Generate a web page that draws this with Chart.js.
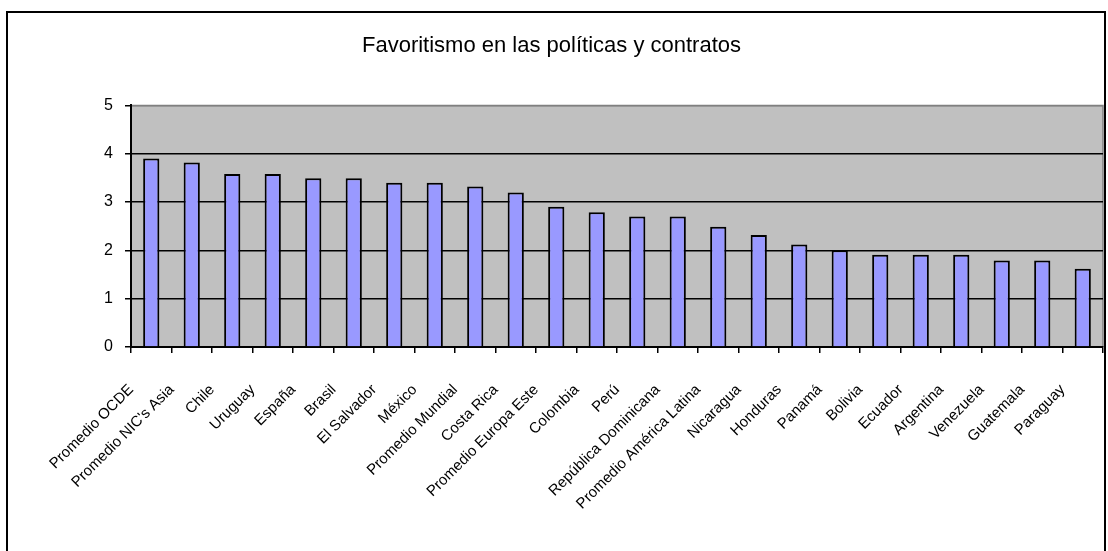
<!DOCTYPE html>
<html>
<head>
<meta charset="utf-8">
<script src="https://cdn.jsdelivr.net/npm/chart.js@4/dist/chart.umd.min.js"></script>
<style>
  html, body { margin: 0; padding: 0; background: #fff; }
  #wrap { width: 1108px; height: 551px; }
</style>
</head>
<body>
<div id="wrap"><canvas id="c" width="1108" height="551"></canvas></div>
<script>
// Favoritism index by country / regional average (scale 0-5)
const categories = [
  'Promedio OCDE', "Promedio NIC's Asia", 'Chile', 'Uruguay', 'España', 'Brasil',
  'El Salvador', 'México', 'Promedio Mundial', 'Costa Rica', 'Promedio Europa Este',
  'Colombia', 'Perú', 'República Dominicana', 'Promedio América Latina', 'Nicaragua',
  'Honduras', 'Panamá', 'Bolivia', 'Ecuador', 'Argentina', 'Venezuela',
  'Guatemala', 'Paraguay'
];
const values = [
  3.90, 3.82, 3.58, 3.58, 3.49, 3.49,
  3.40, 3.40, 3.32, 3.20, 2.90,
  2.79, 2.70, 2.70, 2.49, 2.32,
  2.12, 2.00, 1.91, 1.91, 1.91, 1.79,
  1.79, 1.62
];
const yTickValues = [0, 1, 2, 3, 4, 5];
const chartTitle = 'Favoritismo en las políticas y contratos';

const FONT = "'Liberation Sans', Arial, sans-serif";

// Outer frame plus grey plot-area background and border
const framePlugin = {
  id: 'frame',
  beforeDraw(chart) {
    const { ctx, chartArea: a } = chart;
    ctx.save();
    ctx.fillStyle = '#ffffff';
    ctx.fillRect(0, 0, chart.width, chart.height);
    ctx.strokeStyle = '#000';
    ctx.lineWidth = 2;
    ctx.strokeRect(7, 12, 1098, 600);
    ctx.fillStyle = '#C0C0C0';
    ctx.fillRect(a.left, a.top, a.right - a.left, a.bottom - a.top);
    ctx.strokeStyle = '#808080';
    ctx.lineWidth = 1.5;
    ctx.beginPath();
    ctx.moveTo(a.left, a.top);
    ctx.lineTo(a.right, a.top);
    ctx.lineTo(a.right, a.bottom);
    ctx.stroke();
    ctx.restore();
  }
};

new Chart(document.getElementById('c'), {
  type: 'bar',
  data: {
    labels: categories,
    datasets: [{
      data: values,
      backgroundColor: '#9999FF',
      borderColor: '#000',
      borderWidth: 2,
      barPercentage: 0.4,
      categoryPercentage: 1.0
    }]
  },
  options: {
    responsive: false,
    animation: false,
    devicePixelRatio: 1,
    layout: { padding: { left: 0, right: 5, top: 0, bottom: 0 } },
    plugins: {
      legend: { display: false },
      tooltip: { enabled: false },
      title: {
        display: true,
        text: chartTitle,
        color: '#000',
        font: { family: FONT, size: 22, weight: 'normal' },
        padding: { top: 33, bottom: 46 }
      }
    },
    scales: {
      x: {
        offset: true,
        grid: {
          drawOnChartArea: false,
          drawTicks: true,
          tickLength: 6,
          color: '#000',
          lineWidth: 1.5,
          offset: true
        },
        border: { color: '#000', width: 2 },
        ticks: {
          autoSkip: false,
          minRotation: 45,
          maxRotation: 45,
          padding: 28,
          labelOffset: -20,
          color: '#000',
          font: { family: FONT, size: 15 }
        },
        afterFit(scale) {
          scale.height = 204;
          scale.paddingLeft = 0;
          scale.paddingRight = 0;
        }
      },
      y: {
        min: 0,
        max: 5,
        afterBuildTicks(scale) { scale.ticks = yTickValues.map(v => ({ value: v })); },
        grid: {
          color: ctx => (ctx.tick && ctx.tick.value === 5) ? '#808080' : '#000',
          lineWidth: 1.5,
          tickLength: 6,
          tickColor: '#000'
        },
        border: { color: '#000', width: 2 },
        ticks: {
          padding: 12,
          color: '#000',
          font: { family: FONT, size: 16 }
        },
        afterFit(scale) { scale.width = 131; }
      }
    }
  },
  plugins: [framePlugin]
});
</script>
</body>
</html>
